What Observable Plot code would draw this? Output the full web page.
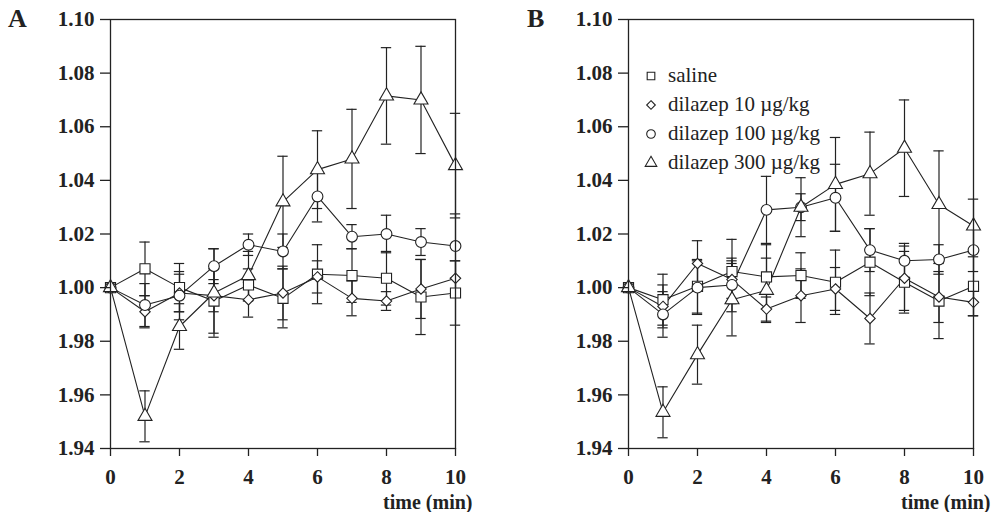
<!DOCTYPE html>
<html><head><meta charset="utf-8">
<script src="https://cdn.jsdelivr.net/npm/d3@7"></script>
<script src="https://cdn.jsdelivr.net/npm/@observablehq/plot@0.6"></script>
<style>
body{margin:0;background:#fff;}
#wrap{position:relative;width:991px;height:512px;font-family:"Liberation Serif","Times New Roman",serif;color:#222;overflow:hidden;}
.panel{position:absolute;top:0;}
.letter{position:absolute;font-weight:bold;font-size:26px;line-height:26px;}
.legend{position:absolute;left:642px;top:61px;font-size:21px;line-height:29px;}
.legend div{display:flex;align-items:center;height:29px;}
.legend svg{margin-right:8px;overflow:visible;}
</style></head><body><div id="wrap"></div>
<script>
const time = [0,1,2,3,4,5,6,7,8,9,10];
const seriesNames = ["saline","dilazep 10 µg/kg","dilazep 100 µg/kg","dilazep 300 µg/kg"];
const seriesSymbols = ["square","diamond2","circle","triangle"];
const panelLetters = ["A","B"];
const xTicks = [0,2,4,6,8,10];
const yTicks = [0.94,0.96,0.98,1.00,1.02,1.04,1.06,1.08,1.10];
const yTickLabels = ["1.94","1.96","1.98","1.00","1.02","1.04","1.06","1.08","1.10"];
const xLabel = "time (min)";

// Panel A
const A_saline    = [1.000,1.007,1.000,0.995,1.001,0.996,1.005,1.0045,1.0035,0.9965,0.998];
const A_saline_se = [0,0.010,0.009,0.012,0.006,0.011,0.011,0.010,0.010,0.014,0.012];
const A_d10       = [1.000,0.991,0.998,0.997,0.9955,0.998,1.004,0.996,0.995,0.9995,1.0035];
const A_d10_se    = [0,0.006,0.007,0.006,0.0065,0.010,0.006,0.0065,0.0035,0.011,0.0065];
const A_d100      = [1.000,0.9935,0.997,1.008,1.016,1.0135,1.034,1.019,1.020,1.017,1.0155];
const A_d100_se   = [0,0.008,0.009,0.0065,0.004,0.0065,0.0095,0.0045,0.007,0.005,0.012];
const A_d300      = [1.000,0.952,0.9855,0.998,1.0045,1.032,1.044,1.048,1.0715,1.070,1.0455];
const A_d300_se   = [0,0.0095,0.0085,0.0165,0.009,0.017,0.0145,0.0185,0.018,0.020,0.0195];

// Panel B
const B_saline    = [1.000,0.9955,1.0005,1.006,1.004,1.0045,1.002,1.0095,1.002,0.995,1.0005];
const B_saline_se = [0,0.0095,0.010,0.012,0.012,0.0085,0.012,0.0125,0.0115,0.014,0.011];
const B_d10       = [1.000,0.993,1.009,1.003,0.992,0.997,0.9995,0.9885,1.0035,0.9965,0.9945];
const B_d10_se    = [0,0.008,0.0085,0.007,0.0045,0.010,0.008,0.0095,0.012,0.0095,0.005];
const B_d100      = [1.000,0.990,1.000,1.001,1.029,1.030,1.0335,1.014,1.010,1.0105,1.014];
const B_d100_se   = [0,0.0085,0.010,0.010,0.0125,0.005,0.0125,0.008,0.0065,0.0055,0.008];
const B_d300      = [1.000,0.9535,0.975,0.9955,0.999,1.030,1.0385,1.0425,1.052,1.031,1.023];
const B_d300_se   = [0,0.0095,0.011,0.0135,0.012,0.011,0.0175,0.0155,0.018,0.020,0.010];

const panelsData = [
  [[A_saline,A_saline_se],[A_d10,A_d10_se],[A_d100,A_d100_se],[A_d300,A_d300_se]],
  [[B_saline,B_saline_se],[B_d10,B_d10_se],[B_d100,B_d100_se],[B_d300,B_d300_se]]
];

const symbolR = {square:5.7, diamond2:4.7, circle:5.4, triangle:5.2};
const capHalf = 0.15;
const ink = "#222";
const yLabelMap = new Map(yTicks.map((t,i)=>[t,yTickLabels[i]]));

const wrap = document.getElementById("wrap");
const layouts = [{left:0,width:495,marginRight:40},{left:518,width:473,marginRight:18}];

panelsData.forEach((panel, p) => {
  const rows = [];
  panel.forEach(([vals, ses], s) => {
    time.forEach((t,i)=>rows.push({t, v: vals[i], se: ses[i], series: seriesNames[s], sym: seriesSymbols[s]}));
  });
  const withErr = rows.filter(d => d.se > 0);
  const marks = [
    Plot.ruleX(withErr, {x:"t", y1:d=>d.v-d.se, y2:d=>d.v+d.se, stroke:ink, strokeWidth:1.2}),
    Plot.ruleY(withErr, {y:d=>d.v+d.se, x1:d=>d.t-capHalf, x2:d=>d.t+capHalf, stroke:ink, strokeWidth:1.2}),
    Plot.ruleY(withErr, {y:d=>d.v-d.se, x1:d=>d.t-capHalf, x2:d=>d.t+capHalf, stroke:ink, strokeWidth:1.2}),
    Plot.line(rows, {x:"t", y:"v", z:"series", stroke:ink, strokeWidth:1.1}),
  ];
  seriesSymbols.forEach((sym, s) => {
    marks.push(Plot.dot(rows.filter(d=>d.sym===sym), {x:"t", y:"v", symbol:"sym", r:symbolR[sym], fill:"white", stroke:ink, strokeWidth:1.1}));
  });
  marks.push(
    Plot.frame({stroke:ink, strokeWidth:1.3}),
    Plot.axisY({ticks:yTicks, tickFormat:d=>yLabelMap.get(d), tickSize:10, tickPadding:6, label:null, strokeWidth:1.3, fontSize:21}),
    Plot.axisX({ticks:xTicks, tickFormat:d=>String(d), tickSize:8, tickPadding:13, label:null, strokeWidth:1.3, fontSize:21}),
    Plot.text([xLabel], {frameAnchor:"bottom-right", textAnchor:"end", lineAnchor:"middle", dx:17, dy:54, fontWeight:"bold", fontSize:20, fill:ink})
  );
  const L = layouts[p];
  const chart = Plot.plot({
    width: L.width, height: 512,
    marginLeft: 110, marginRight: L.marginRight, marginTop: 19, marginBottom: 64,
    x: {domain:[0,10]},
    y: {domain:[0.94,1.10]},
    symbol: {type:"identity"},
    style: {fontFamily:'"Liberation Serif","Times New Roman",serif', fontSize:"21px", fontWeight:"bold", color:ink, background:"transparent", overflow:"visible"},
    marks
  });
  chart.classList.add("panel");
  chart.style.left = L.left + "px";
  wrap.appendChild(chart);

  const letter = document.createElement("div");
  letter.className = "letter";
  letter.textContent = panelLetters[p];
  letter.style.left = (L.left + 8 + (p ? 1 : 0)) + "px";
  letter.style.top = "6px";
  wrap.appendChild(letter);
});

// Legend (panel B)
const legend = document.createElement("div");
legend.className = "legend";
const legendR = {square:4.3, diamond2:3.9, circle:4.3, triangle:4.3};
seriesNames.forEach((name, s) => {
  const row = document.createElement("div");
  const sym = seriesSymbols[s];
  const size = Math.PI * legendR[sym] * legendR[sym];
  const symType = {square:d3.symbolSquare, diamond2:d3.symbolDiamond2, circle:d3.symbolCircle, triangle:d3.symbolTriangle}[sym];
  const svg = d3.create("svg").attr("width",18).attr("height",18);
  svg.append("path").attr("transform","translate(9,9)").attr("d", d3.symbol(symType, size)())
    .attr("fill","white").attr("stroke",ink).attr("stroke-width",1.1);
  row.appendChild(svg.node());
  const span = document.createElement("span");
  span.textContent = name;
  row.appendChild(span);
  legend.appendChild(row);
});
wrap.appendChild(legend);
</script>
</body></html>
